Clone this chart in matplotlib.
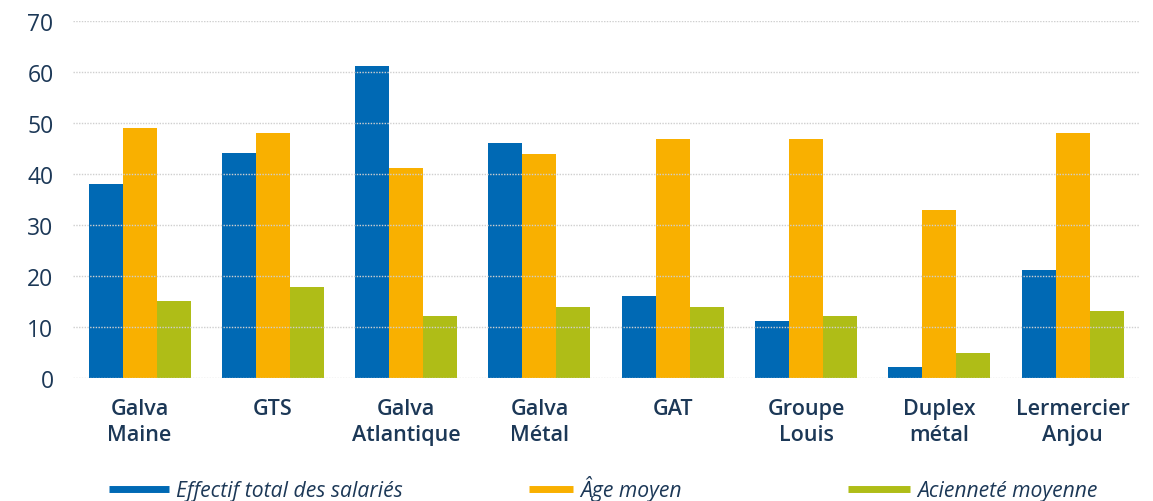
import numpy as np
import matplotlib
matplotlib.use("Agg")
import matplotlib.pyplot as plt
from matplotlib.lines import Line2D

plt.rcParams['font.family'] = ['Open Sans', 'DejaVu Sans']

# Data
categories = ['Galva\nMaine', 'GTS', 'Galva\nAtlantique', 'Galva\nMétal', 'GAT',
              'Groupe\nLouis', 'Duplex\nmétal', 'Lermercier\nAnjou']
effectif = [38, 44, 61, 46, 16, 11, 2, 21]
age_moyen = [49, 48, 41, 43.8, 46.8, 46.8, 32.8, 48]
anciennete = [15, 17.7, 12, 13.8, 13.8, 12, 4.8, 13]
series_names = ['Effectif total des salariés', 'Âge moyen', 'Acienneté moyenne']
colors = ['#0069b4', '#f9b000', '#afbd17']
text_color = '#1c3857'

fig = plt.figure(figsize=(11.53, 5.02), dpi=100)
ax = fig.add_axes([0.0633, 0.246, 0.9247, 0.711])

x = np.arange(len(categories))
w = 0.255
for i, (vals, c) in enumerate(zip([effectif, age_moyen, anciennete], colors)):
    ax.bar(x + (i - 1) * w, vals, width=w, color=c, zorder=1)

ax.set_xlim(-0.5, len(categories) - 0.5)
ax.set_ylim(0, 70)
ax.set_yticks(range(0, 71, 10))
ax.yaxis.grid(True, linestyle=(0, (1, 1)), color='#cfcfcf', linewidth=1, zorder=2)
ax.set_axisbelow(False)
for s in ax.spines.values():
    s.set_visible(False)
ax.tick_params(axis='both', length=0)
ax.tick_params(axis='y', labelsize=16.5, labelcolor=text_color, pad=14)
ax.set_xticks(x)
ax.set_xticklabels(categories, fontsize=15.5, fontweight='semibold', color=text_color,
                   linespacing=1.3)
ax.tick_params(axis='x', pad=15)

# legend drawn in figure coordinates
W, H = 1153, 502
leg_y = 1 - 490 / H
txt_y = 1 - 497 / H
leg_items = [(109, 169), (529, 573), (848, 910)]
for (x0, x1), name, c in zip(leg_items, series_names, colors):
    fig.add_artist(Line2D([x0 / W, x1 / W], [leg_y, leg_y], color=c, lw=5,
                          solid_capstyle='butt'))
    fig.text((x1 + 7) / W, txt_y, name, fontsize=15.2, style='italic',
             color=text_color, va='baseline', ha='left')

fig.savefig('out.png', dpi=100)
